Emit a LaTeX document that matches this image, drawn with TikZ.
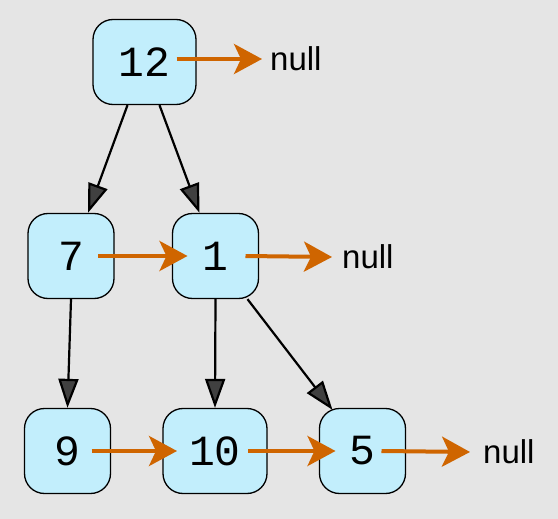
\documentclass[tikz,border=0pt]{standalone}
\usepackage{fontspec}
\setmainfont{Liberation Sans}
\newfontfamily\digitfont{Liberation Mono}
\usetikzlibrary{arrows.meta,positioning,calc}
\definecolor{paper}{HTML}{E5E5E5}
\definecolor{cell}{HTML}{C2EEFC}
\definecolor{link}{HTML}{CF6500}
\definecolor{head}{HTML}{404040}

\begin{document}
\begin{tikzpicture}[x=1pt,y=-1pt,
    box/.style={draw=black,line width=1.3pt,fill=cell,rounded corners=20pt,
      minimum height=85pt,inner sep=0pt,font=\digitfont\fontsize{43}{43}\selectfont},
    nul/.style={anchor=west,inner sep=0pt,font=\fontsize{33}{33}\selectfont},
    child/.style={line width=2.2pt,-{Triangle[length=29pt,width=20pt,fill=head]}},
    next/.style={link,line width=4pt,-{Stealth[length=28pt,width=30pt,inset=7pt]}}]
    \fill[paper] (0,0) rectangle (558,519);
    % list cells
    \foreach \n/\x/\y/\w in {12/144.5/62/103,7/71/256/86,1/215.5/256/86,
                             9/67.5/451/86,10/215/451/104,5/362.5/451/86}{
      \node[box,minimum width=\w pt] (n\n) at (\x,\y) {\n};}
    \node[nul] (null1) at (270,59) {null};
    \node[nul] (null2) at (342,257) {null};
    \node[nul] (null3) at (483,452) {null};
    % tree edges
    \draw[child] ([xshift=-17pt]n12.south) -- ([xshift=17pt]n7.north);
    \draw[child] ([xshift=15pt]n12.south) -- ([xshift=-16pt]n1.north);
    \draw[child] (n7.south) -- (n9.north);
    \draw[child] (n1.south) -- (n10.north);
    \draw[child] ([xshift=32pt]n1.south) -- ([xshift=-30pt,yshift=-2pt]n5.north);
    % next pointers
    \draw[next] ([xshift=32pt,yshift=3pt]n12.center) -- ([xshift=-8pt]null1.west);
    \draw[next] ([xshift=27pt]n7.center) -- ([xshift=-28pt]n1.center);
    \draw[next] ([xshift=30pt]n1.center) -- ([xshift=-10pt]null2.west);
    \draw[next] ([xshift=24pt]n9.center) -- ([xshift=-38pt]n10.center);
    \draw[next] ([xshift=33pt]n10.center) -- ([xshift=-27pt]n5.center);
    \draw[next] ([xshift=19pt]n5.center) -- ([xshift=-13pt]null3.west);
\end{tikzpicture}
\end{document}
